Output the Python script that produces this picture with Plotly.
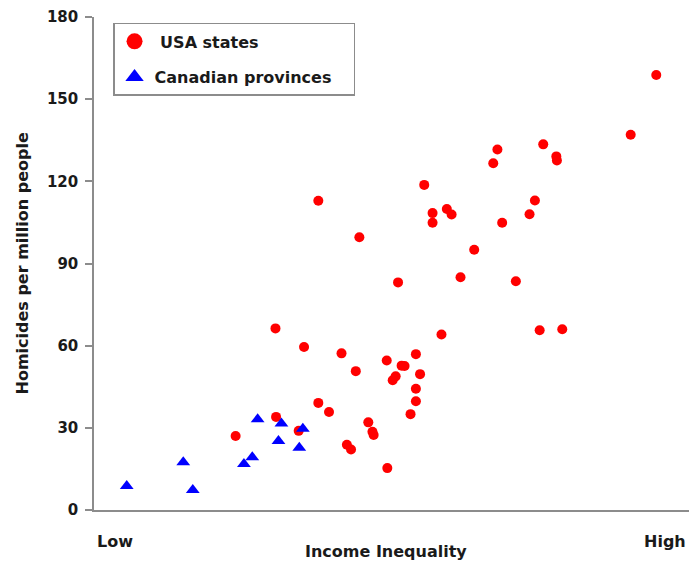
import plotly.graph_objects as go

# Income inequality index (arbitrary scale 0-100, Low -> High)
usa_inequality = [94.5, 90.2, 67.8, 67.1, 75.5, 77.7, 77.8, 55.5, 56.9, 56.9,
                  59.3, 60.1, 74.1, 73.2, 68.6, 63.9, 37.7, 44.6, 51.1, 61.6,
                  70.9, 58.4, 74.9, 78.7, 30.5, 35.3, 41.6, 44.0, 49.2, 54.1,
                  51.7, 52.2, 54.8, 50.7, 50.2, 54.1, 54.1, 53.2, 37.7, 39.5,
                  46.1, 46.8, 47.0, 42.5, 43.2, 49.3, 30.6, 34.4, 23.8]
usa_homicides = [158.8, 137.0, 131.6, 126.6, 133.5, 129.1, 127.6, 118.7, 108.4, 104.9,
                 109.9, 107.9, 113.0, 108.0, 104.9, 95.0, 112.9, 99.6, 83.1, 85.0,
                 83.5, 64.1, 65.6, 66.0, 66.3, 59.5, 57.2, 50.7, 54.6, 56.9,
                 52.7, 52.6, 49.6, 48.8, 47.4, 44.3, 39.7, 35.0, 39.1, 35.8,
                 32.0, 28.6, 27.4, 23.8, 22.1, 15.3, 34.0, 28.9, 27.0]

can_inequality = [5.5, 15.0, 16.6, 27.5, 25.2, 26.6, 31.5, 31.0, 35.1, 34.5]
can_homicides = [8.8, 17.4, 7.3, 33.1, 16.8, 19.3, 31.6, 25.2, 29.7, 22.7]

series_names = ["\u00a0USA states", "Canadian provinces\u00a0\u00a0\u00a0"]
y_ticks = [0, 30, 60, 90, 120, 150, 180]

FONT = "DejaVu Sans"
RED = "#ff0000"
BLUE = "#0000ff"
GREY = "#8c8c8c"
TEXT = "#1a1a1a"

fig = go.Figure()

fig.add_trace(go.Scatter(x=usa_inequality, y=usa_homicides, mode="markers",
                         marker=dict(symbol="circle", size=10, color=RED),
                         showlegend=False, hoverinfo="x+y"))
fig.add_trace(go.Scatter(x=can_inequality, y=can_homicides, mode="markers",
                         marker=dict(symbol="triangle-up", size=12, color=BLUE),
                         showlegend=False, hoverinfo="x+y"))

# legend entries (larger symbols, as in the original legend)
fig.add_trace(go.Scatter(x=[None], y=[None], mode="markers", name=series_names[0],
                         marker=dict(symbol="circle", size=16, color=RED),
                         legendgroup="a"))
fig.add_trace(go.Scatter(x=[None], y=[None], mode="markers", name=series_names[1],
                         marker=dict(symbol="triangle-up", size=16, color=BLUE),
                         legendgroup="b"))

fig.update_layout(
    width=689, height=567,
    margin=dict(l=94, r=0, t=17, b=57),
    plot_bgcolor="white", paper_bgcolor="white",
    font=dict(family=FONT, size=16, color=TEXT, weight="bold"),
    legend=dict(x=0.032, y=0.988, xanchor="left", yanchor="top",
                bordercolor=GREY, borderwidth=1.5, bgcolor="white",
                font=dict(family=FONT, size=16, color=TEXT, weight="bold"),
                tracegroupgap=12, traceorder="grouped"),
    xaxis=dict(range=[0, 100], showticklabels=False, ticks="", showgrid=False,
               zeroline=False, showline=True, linecolor=GREY, linewidth=1.5),
    yaxis=dict(range=[0, 180], tickvals=y_ticks, ticks="outside", ticklen=7,
               tickcolor=GREY, tickwidth=1.5, showgrid=False, zeroline=False,
               showline=True, linecolor=GREY, linewidth=1.5, ticklabelstandoff=4,
               tickfont=dict(family=FONT, size=15, color=TEXT, weight="bold")),
    annotations=[
        dict(text="Homicides per million people", xref="paper", yref="paper",
             x=-0.121, y=0.5, textangle=-90, showarrow=False,
             xanchor="center", yanchor="middle"),
        dict(text="Low", xref="paper", yref="paper", x=0.035, y=-0.063,
             showarrow=False, xanchor="center", yanchor="middle"),
        dict(text="High", xref="paper", yref="paper", x=0.96, y=-0.063,
             showarrow=False, xanchor="center", yanchor="middle"),
        dict(text="Income Inequality", xref="paper", yref="paper", x=0.491, y=-0.085,
             showarrow=False, xanchor="center", yanchor="middle"),
    ],
)

fig.write_html("out.html",
               config={"displayModeBar": False},
               post_script="document.body.style.margin='0';"
                           "document.body.style.overflow='hidden';")
